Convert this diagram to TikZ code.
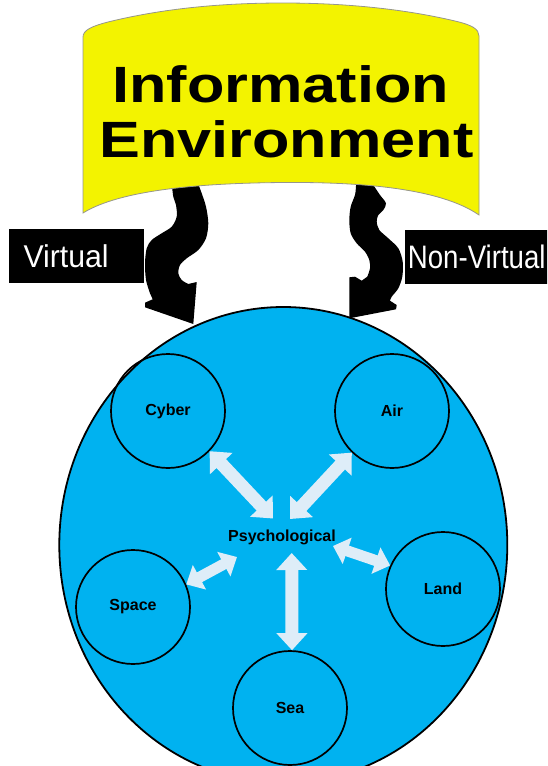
\documentclass[tikz,border=0pt]{standalone}
\usepackage{fontspec}
\usepackage{graphicx}
\setmainfont{Liberation Sans}
\usetikzlibrary{arrows.meta}

\definecolor{bannerYellow}{RGB}{243,243,0}
\definecolor{bannerEdge}{RGB}{150,150,140}
\definecolor{worldBlue}{RGB}{0,178,240}
\definecolor{linkBlue}{RGB}{222,237,248}
\definecolor{ink}{RGB}{0,0,0}

\tikzset{
  realm/.style={circle, draw=black, line width=1.7pt, minimum size=114pt,
    inner sep=0pt, font=\fontsize{16}{18}\selectfont\bfseries, text=black},
  link/.style={draw=linkBlue, line width=13pt,
    {Triangle[width=30pt,length=17pt]}-{Triangle[width=30pt,length=17pt]}},
  shortlink/.style={draw=linkBlue, line width=11pt,
    {Triangle[width=27pt,length=15pt]}-{Triangle[width=27pt,length=15pt]}},
  titletext/.style={inner sep=0pt, anchor=base,
    font=\fontsize{51}{55}\selectfont\bfseries, text=black},
  sidelabel/.style={fill=black, text=white, anchor=west, align=left,
    inner ysep=0pt},
}

\begin{document}
\begin{tikzpicture}[x=1pt, y=-1pt]
  \useasboundingbox (0,0) rectangle (547,766);
  \clip (0,0) rectangle (547,766);

  % the world of operational domains
  \draw[fill=worldBlue, line width=1.8pt] (283.3,545) ellipse [x radius=224, y radius=238];

  % black curved arrows flowing down from the banner
  \fill[ink] (172,178) -- (199,178)
    -- plot[smooth] coordinates {(199,186) (201.7,193.3) (206,206.7) (208.3,223.3)
       (206,238.3) (198.3,250) (186.7,258.3) (180,265) (178.3,273.3) (181.7,280) (188.3,284)}
    -- (196.7,282) -- (193.3,324) -- (145,307.3) -- (145,302.7) -- (152.7,299.3)
    -- plot[smooth] coordinates {(150,293.3) (146,280) (145,263.3) (146.7,248.3)
       (151.7,240) (161.7,233.3) (171.7,226.7) (176.7,216.7) (176,205) (173.3,196.7) (172,186)}
    -- cycle;
  \fill[ink] (356,178) -- (372,178)
    -- plot[smooth] coordinates {(374,186) (380,195) (386,203.3) (383.3,210) (378.3,215)
       (376.7,221.7) (379.3,230) (388.3,238.3) (398.3,248.3) (402.7,261.7) (402.3,276.7)
       (398.3,288.3) (391.7,296.7) (390,300.7)}
    -- (396.7,305) -- (396,309.3) -- (349.3,318.3) -- (349.3,277.3) -- (355,276.7) -- (361.7,280.7)
    -- plot[smooth] coordinates {(367.3,276.7) (370,268.3) (369.3,260) (365,251.7)
       (356.7,243.3) (350.7,233.3) (349.3,220) (350.7,206.7) (355,195) (356,186)}
    -- cycle;

  % curved banner
  \draw[fill=bannerYellow, draw=bannerEdge, line width=0.8pt]
    (83,213) -- (83,37)
    .. controls (83,30) and (92,26) .. (110,21.5)
    .. controls (170,7) and (230,3) .. (283,3)
    .. controls (340,3) and (400,8) .. (455,21)
    .. controls (472,25) and (479,29) .. (479,36)
    -- (479,215)
    .. controls (440,188) and (360,182) .. (285,182.5)
    .. controls (200,183) and (120,190) .. (83,213) -- cycle;
  \node[titletext] (info) at (280.5,102) {\scalebox{1.2}[1]{Information}};
  \node[titletext] (env) at (286.5,157) {\scalebox{1.2}[1]{Environment}};

  % side labels
  \node[sidelabel, inner xsep=15pt, text width=105.7pt, minimum height=53.5pt]
    (virtual) at (8.3,256.2) {\fontsize{31.5}{34}\selectfont\scalebox{0.96}[1]{Virtual}};
  \node[sidelabel, inner xsep=2.7pt, text width=150pt, minimum height=54pt]
    (nonvirtual) at (405,257) {\fontsize{32.5}{34}\selectfont\scalebox{0.85}[1]{Non-Virtual}};

  % domains
  \node[realm] (cyber) at (168,411) {Cyber};
  \node[realm] (air)   at (392,411) {Air};
  \node[realm] (land)  at (443,589) {Land};
  \node[realm] (space) at (133,607) {Space};
  \node[realm] (sea)   at (290,708) {Sea};
  \node[font=\fontsize{16}{18}\selectfont\bfseries, text=black] (psych) at (282,537) {Psychological};

  % inner ends of the links, around the psychological core
  \coordinate (cyb-p) at (273,518.5);
  \coordinate (air-p) at (290,519);
  \coordinate (lan-p) at (333,546);
  \coordinate (spa-p) at (237,557);
  \coordinate (sea-p) at (291.7,553);

  \draw[link] (cyber.-44) -- (cyb-p);
  \draw[link] (air.-134) -- (air-p);
  \draw[shortlink] (land.156) -- (lan-p);
  \draw[shortlink] (space.23) -- (spa-p);
  \draw[link] (sea.88) -- (sea-p);
\end{tikzpicture}
\end{document}
